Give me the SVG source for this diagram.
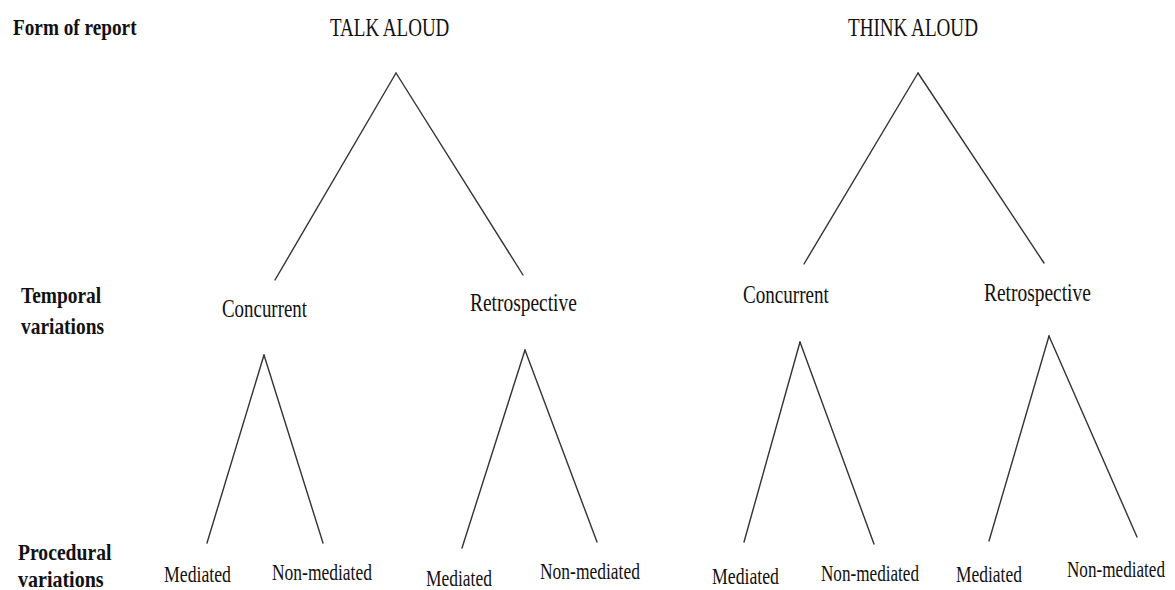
<svg xmlns="http://www.w3.org/2000/svg" width="1175" height="590" viewBox="0 0 1175 590">
  <style>
    text { font-family: "Liberation Serif", "Times New Roman", serif; fill: #111; }
    .row { font-weight: bold; font-size: 23px; }
    .top { font-size: 26px; }
    .mid { font-size: 25px; }
    .leaf { font-size: 24px; }
    line { stroke: #333; stroke-width: 1.4; stroke-linecap: round; }
  </style>
  <rect width="1175" height="590" fill="#fff"/>

  <!-- row headings (narrow serif: glyphs squeezed horizontally) -->
  <g id="heading-form">
    <text class="row" transform="translate(13,35) scale(0.837,1)">Form of report</text>
  </g>
  <g id="heading-temporal">
    <text class="row" transform="translate(21,303) scale(0.845,1)">Temporal</text>
    <text class="row" transform="translate(21,334) scale(0.844,1)">variations</text>
  </g>
  <g id="heading-procedural">
    <text class="row" transform="translate(18,560) scale(0.855,1)">Procedural</text>
    <text class="row" transform="translate(18,587) scale(0.87,1)">variations</text>
  </g>

  <!-- connectors -->
  <g id="connectors">
    <line x1="396" y1="73" x2="275" y2="280"/>
    <line x1="396" y1="73" x2="523" y2="275"/>
    <line x1="918" y1="73" x2="804" y2="264"/>
    <line x1="918" y1="73" x2="1044" y2="263"/>
    <line x1="264" y1="355" x2="207" y2="543"/>
    <line x1="264" y1="355" x2="323" y2="543"/>
    <line x1="525" y1="350" x2="462" y2="548"/>
    <line x1="525" y1="350" x2="597" y2="542"/>
    <line x1="800" y1="342" x2="744" y2="542"/>
    <line x1="800" y1="342" x2="874" y2="544"/>
    <line x1="1049" y1="336" x2="989" y2="541"/>
    <line x1="1049" y1="336" x2="1137" y2="537"/>
  </g>

  <!-- form of report -->
  <g id="talk-aloud">
    <text class="top" transform="translate(330,36) scale(0.731,1)">TALK ALOUD</text>
  </g>
  <g id="think-aloud">
    <text class="top" transform="translate(848,36) scale(0.735,1)">THINK ALOUD</text>
  </g>

  <!-- temporal variations -->
  <g id="talk-concurrent">
    <text class="mid" transform="translate(222,317) scale(0.756,1)">Concurrent</text>
  </g>
  <g id="talk-retrospective">
    <text class="mid" transform="translate(470,311) scale(0.778,1)">Retrospective</text>
  </g>
  <g id="think-concurrent">
    <text class="mid" transform="translate(743,303) scale(0.764,1)">Concurrent</text>
  </g>
  <g id="think-retrospective">
    <text class="mid" transform="translate(984,301) scale(0.778,1)">Retrospective</text>
  </g>

  <!-- procedural variations -->
  <g id="talk-concurrent-mediated">
    <text class="leaf" transform="translate(164,582) scale(0.739,1)">Mediated</text>
  </g>
  <g id="talk-concurrent-non-mediated">
    <text class="leaf" transform="translate(272,580) scale(0.728,1)">Non-mediated</text>
  </g>
  <g id="talk-retrospective-mediated">
    <text class="leaf" transform="translate(426,586) scale(0.728,1)">Mediated</text>
  </g>
  <g id="talk-retrospective-non-mediated">
    <text class="leaf" transform="translate(540,579) scale(0.728,1)">Non-mediated</text>
  </g>
  <g id="think-concurrent-mediated">
    <text class="leaf" transform="translate(712,584) scale(0.739,1)">Mediated</text>
  </g>
  <g id="think-concurrent-non-mediated">
    <text class="leaf" transform="translate(821,581) scale(0.714,1)">Non-mediated</text>
  </g>
  <g id="think-retrospective-mediated">
    <text class="leaf" transform="translate(956,582) scale(0.728,1)">Mediated</text>
  </g>
  <g id="think-retrospective-non-mediated">
    <text class="leaf" transform="translate(1067,577) scale(0.714,1)">Non-mediated</text>
  </g>
</svg>
